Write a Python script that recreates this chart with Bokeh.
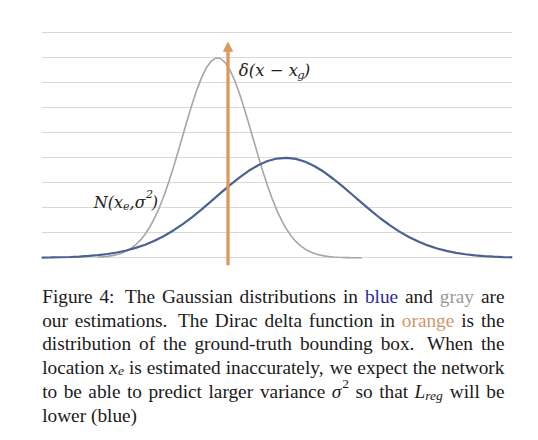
from bokeh.plotting import figure
from bokeh.models import Range1d, FixedTicker, Grid, Arrow, NormalHead, Label
from bokeh.layouts import column
from bokeh.core.properties import value
from bokeh.embed import file_html
from bokeh.resources import INLINE

# ---------------- data ----------------
blue_x = [0.0, 0.2, 0.4, 0.6, 0.8, 1.0, 1.2, 1.4, 1.6, 1.8, 2.0, 2.2, 2.4, 2.6, 2.8,
          3.0, 3.2, 3.4, 3.6, 3.8, 4.0, 4.2, 4.4, 4.6, 4.8, 5.0, 5.2, 5.4, 5.6, 5.8,
          6.0, 6.2, 6.4, 6.6, 6.8, 7.0, 7.2, 7.4, 7.6, 7.8, 8.0, 8.2, 8.4, 8.6, 8.8,
          9.0, 9.2, 9.4, 9.6, 9.8, 10.0]
blue_y = [0.0004, 0.0007, 0.0011, 0.0016, 0.0025, 0.0037, 0.0053, 0.0076, 0.0106, 0.0146,
          0.0198, 0.0262, 0.0341, 0.0436, 0.0547, 0.0674, 0.0815, 0.0968, 0.1129, 0.1293,
          0.1454, 0.1605, 0.1740, 0.1852, 0.1935, 0.1985, 0.2000, 0.1978, 0.1921, 0.1832,
          0.1715, 0.1576, 0.1423, 0.1261, 0.1097, 0.0937, 0.0786, 0.0647, 0.0523, 0.0416,
          0.0324, 0.0248, 0.0186, 0.0138, 0.0100, 0.0071, 0.0049, 0.0034, 0.0023, 0.0015,
          0.0010]

gray_x = [1.2, 1.3, 1.4, 1.5, 1.6, 1.7, 1.8, 1.9, 2.0, 2.1, 2.2, 2.3, 2.4, 2.5, 2.6,
          2.7, 2.8, 2.9, 3.0, 3.1, 3.2, 3.3, 3.4, 3.5, 3.6, 3.7, 3.8, 3.9, 4.0, 4.1,
          4.2, 4.3, 4.4, 4.5, 4.6, 4.7, 4.8, 4.9, 5.0, 5.1, 5.2, 5.3, 5.4, 5.5, 5.6,
          5.7, 5.8, 5.9, 6.0, 6.1, 6.2, 6.3, 6.4, 6.5, 6.6, 6.7, 6.8]
gray_y = [0.0012, 0.0018, 0.0028, 0.0043, 0.0064, 0.0093, 0.0134, 0.0188, 0.0260, 0.0353,
          0.0471, 0.0616, 0.0792, 0.1000, 0.1240, 0.1510, 0.1806, 0.2121, 0.2446, 0.2770,
          0.3080, 0.3364, 0.3609, 0.3802, 0.3932, 0.3995, 0.3986, 0.3905, 0.3757, 0.3550,
          0.3294, 0.3002, 0.2686, 0.2361, 0.2038, 0.1727, 0.1438, 0.1175, 0.0943, 0.0743,
          0.0575, 0.0438, 0.0327, 0.0240, 0.0172, 0.0122, 0.0085, 0.0058, 0.0039, 0.0025,
          0.0016, 0.0010, 0.0006, 0.0004, 0.0002, 0.0001, 0.0001]

delta_x = 3.96
delta_bottom = -0.015
delta_top = 0.431

grid_ticks = [0.0, 0.05, 0.10, 0.15, 0.20, 0.25, 0.30, 0.35, 0.40, 0.45]

# chart labels: (text, x, y, size)
delta_label = [("δ(x − x", 4.19, 0.3746, "16.5px"), ("g", 5.43, 0.3666, "11.5px"),
               (")", 5.57, 0.3746, "16.5px")]
normal_label = [("N(x", 1.11, 0.1112, "16px"), ("e", 1.73, 0.1046, "11px"),
                (",σ", 1.87, 0.1112, "16px"), ("2", 2.22, 0.1276, "11px"),
                (")", 2.34, 0.1112, "16px")]

# caption: lines of words; each word is a list of pieces (text, italic, color, sub/sup)
BLK, BLU, GRY, ORG = "#1a1a1a", "#2a2a9c", "#9a9a9a", "#d4956a"
def w(t, c=BLK):
    return [(t, False, c, "")]
cap_lines = [
    [w("Figure"), w("4:"), w("The"), w("Gaussian"), w("distributions"), w("in"), w("blue", BLU),
     w("and"), w("gray", GRY), w("are")],
    [w("our"), w("estimations."), w("The"), w("Dirac"), w("delta"), w("function"), w("in"),
     w("orange", ORG), w("is"), w("the")],
    [w("distribution"), w("of"), w("the"), w("ground-truth"), w("bounding"), w("box."),
     w("When"), w("the")],
    [w("location"), [("x", True, BLK, ""), ("e", True, BLK, "sub")], w("is"), w("estimated"),
     w("inaccurately,"), w("we"), w("expect"), w("the"), w("network")],
    [w("to"), w("be"), w("able"), w("to"), w("predict"), w("larger"), w("variance"),
     [("σ", True, BLK, ""), ("2", False, BLK, "sup")], w("so"), w("that"),
     [("L", True, BLK, ""), ("reg", True, BLK, "sub")], w("will"), w("be")],
    [w("lower"), w("(blue)")],
]
cap_baselines = [296.0, 319.7, 343.4, 367.1, 390.8, 414.5]
cap_justify = [True, True, True, True, True, False]

# ---------------- chart ----------------
p1 = figure(width=530, height=276, x_range=Range1d(0, 10), y_range=Range1d(-0.0254, 0.4746),
            x_axis_location=None, y_axis_location=None,
            min_border_left=41, min_border_right=18, min_border_top=20, min_border_bottom=6,
            output_backend="svg", toolbar_location=None)
p1.outline_line_color = None
p1.grid.visible = False
p1.add_layout(Grid(dimension=1, ticker=FixedTicker(ticks=grid_ticks),
                   grid_line_color="#d9d9d9", grid_line_width=1))

p1.line(gray_x, gray_y, line_color="#a6a6a6", line_width=1.6)
p1.line(blue_x, blue_y, line_color="#4a6290", line_width=2.2)

orange = "#dd995b"
p1.add_layout(Arrow(end=NormalHead(size=9, fill_color=orange, line_color=orange, line_width=1),
                    x_start=delta_x, y_start=delta_bottom, x_end=delta_x, y_end=delta_top,
                    line_color=orange, line_width=3.3))

for txt, x, y, sz in delta_label + normal_label:
    p1.add_layout(Label(x=x, y=y, text=txt, text_font="DejaVu Serif", text_font_style="italic",
                        text_font_size=sz, text_color="#222222", text_baseline="alphabetic"))

# ---------------- caption (justified text layout) ----------------
FS = 19.3
LEFT, RIGHT = 41.7, 504.0
REG = dict(zip(" abcdefghijklmnopqrstuvwxyz",
               [250, 444, 500, 444, 500, 444, 333, 500, 500, 278, 278, 500, 278, 778, 500, 500,
                500, 500, 333, 389, 278, 500, 500, 722, 500, 500, 444]))
REG.update({"F": 556, "T": 611, "G": 722, "D": 722, "W": 944, "L": 611, ".": 250, ",": 250,
            ":": 278, "-": 333, "(": 333, ")": 333, "4": 500, "2": 500, "σ": 550})
ITA = {"x": 444, "e": 444, "r": 389, "g": 500, "L": 556, "σ": 550}

def piece_size(kind):
    return FS * (0.7 if kind else 1.0)

def piece_width(t, ital, kind):
    tab = ITA if ital else REG
    return sum(tab.get(ch, REG.get(ch, 500)) for ch in t) / 1000.0 * piece_size(kind)

p2 = figure(width=530, height=156, x_range=Range1d(41, 512), y_range=Range1d(432, 276),
            x_axis_location=None, y_axis_location=None,
            min_border_left=41, min_border_right=18, min_border_top=0, min_border_bottom=0,
            output_backend="svg", toolbar_location=None)
p2.outline_line_color = None
p2.grid.visible = False

for words, base, just in zip(cap_lines, cap_baselines, cap_justify):
    widths = [sum(piece_width(t, it, k) for t, it, c, k in wd) for wd in words]
    gaps, weights = [], []
    for wd in words[:-1]:
        end = wd[-1][0][-1]
        if end in ".:":
            gaps.append(0.333 * FS); weights.append(2.0)
        else:
            gaps.append(0.25 * FS); weights.append(1.0)
    natural = sum(widths) + sum(gaps)
    extra = (RIGHT - LEFT - natural) if just else 0.0
    tw = sum(weights) or 1.0
    x = LEFT
    for i, wd in enumerate(words):
        for t, it, c, k in wd:
            dy = 3.8 if k == "sub" else (-7.5 if k == "sup" else 0.0)
            p2.text(x=[x], y=[base + dy], text=[t], text_color=c,
                    text_font=value("Liberation Serif"),
                    text_font_style="italic" if it else "normal",
                    text_font_size=value(f"{piece_size(k):.1f}px"),
                    text_align="left", text_baseline="alphabetic")
            x += piece_width(t, it, k)
        if i < len(gaps):
            x += gaps[i] + extra * weights[i] / tw

layout = column(p1, p2)
open("out.html", "w").write(file_html(layout, INLINE))
